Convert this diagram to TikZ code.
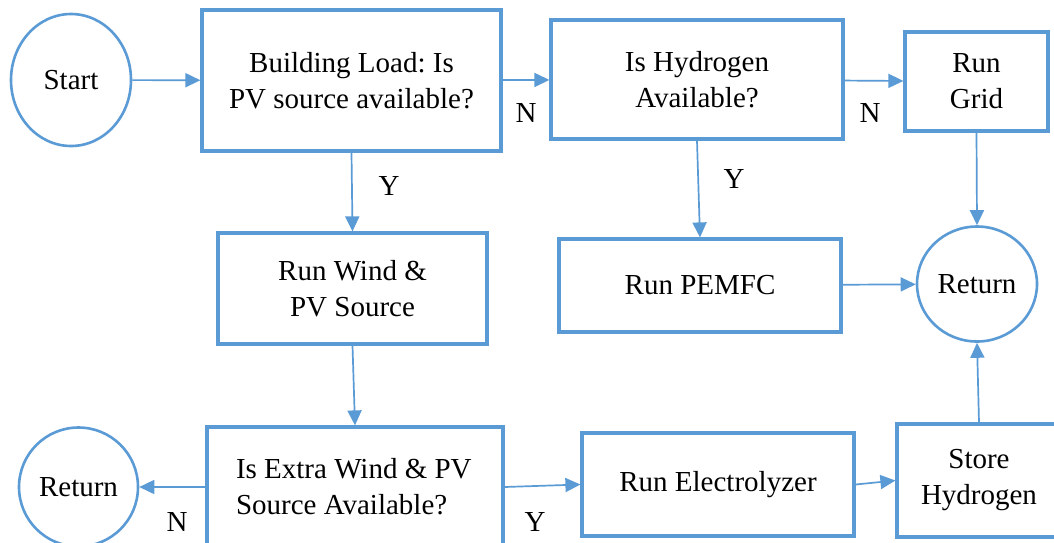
\documentclass[tikz,border=0pt]{standalone}
\usepackage{fontspec}
\setmainfont{Liberation Serif}
\newfontfamily\tnrfont{Liberation Serif}
\usetikzlibrary{shapes.geometric,arrows.meta}
\definecolor{flowblue}{RGB}{91,155,213}
\frenchspacing
\tikzset{
  x=1pt,y=-1pt,
  every node/.style={font=\tnrfont\fontsize{29}{36}\selectfont, text=black},
  stepbox/.style={draw=flowblue, line width=3.2pt, rectangle, inner sep=0pt, align=center},
  terminal/.style={draw=flowblue, line width=2.6pt, ellipse, inner sep=0pt},
  arr/.style={draw=flowblue, line width=1.7pt, -{Triangle[length=15pt,width=14pt]}},
  lbl/.style={inner sep=0pt}
}
\begin{document}
\begin{tikzpicture}
\useasboundingbox (0,0) rectangle (1054,542);
\clip (0,0) rectangle (1054,542);
\fill[white] (0,0) rectangle (1054,542);

\node[terminal, minimum width=120pt, minimum height=132pt] (start) at (71,80) {Start};
\node[stepbox, minimum width=299pt, minimum height=141pt] (build) at (351.5,80.5) {Building Load: Is\\PV source available?};
\node[stepbox, minimum width=292pt, minimum height=119pt] (hyd) at (697,79.5) {Is Hydrogen\\Available?};
\node[stepbox, minimum width=143pt, minimum height=99pt] (grid) at (976.5,81.5) {Run\\Grid};
\node[stepbox, minimum width=269pt, minimum height=111pt] (wind) at (352.5,288.5) {Run Wind \&\\PV Source};
\node[stepbox, minimum width=282pt, minimum height=93pt] (pem) at (700,285.5) {Run PEMFC};
\node[terminal, minimum width=120pt, minimum height=115pt] (ret1) at (977,284) {Return};
\node[stepbox, minimum width=296pt, minimum height=120pt, align=left] (extra) at (355,487) {\raisebox{6pt}{\parbox{238pt}{\raggedright Is Extra Wind \& PV\\Source Available?}}};
\node[terminal, minimum width=119pt, minimum height=119pt] (ret2) at (78.5,487) {Return};
\node[stepbox, minimum width=272pt, minimum height=103pt] (elec) at (718,484.5) {Run Electrolyzer};
\node[stepbox, minimum width=164pt, minimum height=113pt] (store) at (979,480.5) {Store\\Hydrogen};

\draw[arr] (start) -- (build);
\draw[arr] (build) -- (hyd);
\draw[arr] (hyd) -- (grid);
\draw[arr] (build.south) -- (wind.north);
\draw[arr] (hyd.south) -- (pem.north);
\draw[arr] (grid.south) -- (ret1.north);
\draw[arr] (pem) -- (ret1);
\draw[arr] (store.north) -- (ret1.south);
\draw[arr] (wind.south) -- (extra.north);
\draw[arr] (extra.west) -- (ret2.east);
\draw[arr] (extra.east) -- (elec.west);
\draw[arr] (elec.east) -- (store.west);

\node[lbl] (n1) at (526,113) {N};
\node[lbl] (n2) at (870,113) {N};
\node[lbl] (y1) at (389,186) {Y};
\node[lbl] (y2) at (734,179) {Y};
\node[lbl] (n3) at (177,522) {N};
\node[lbl] (y3) at (535,522) {Y};
\end{tikzpicture}
\end{document}
